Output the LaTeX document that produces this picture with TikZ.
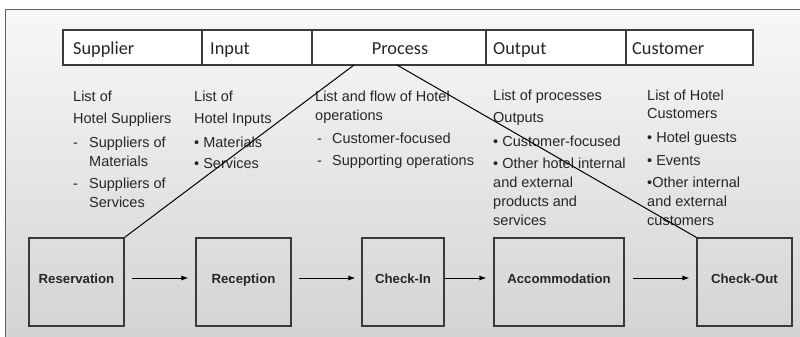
\documentclass[tikz,border=0pt]{standalone}
\usepackage{fontspec}
\setmainfont{Liberation Sans}
\newfontfamily\hdrfont{Carlito}
\usetikzlibrary{arrows.meta}
\definecolor{ink}{HTML}{262626}
\definecolor{linec}{HTML}{3A3A3A}
\tikzset{
  hdrcell/.style={draw=linec, line width=1.1pt, fill=white, inner sep=0pt},
  hdrtext/.style={anchor=base west, inner sep=0pt, text=ink, font=\hdrfont\fontsize{18.3}{20}\selectfont},
  body/.style={anchor=base west, inner sep=0pt, text=ink, font=\fontsize{14.5}{16}\selectfont},
  stagebox/.style={draw=linec, line width=1.1pt, inner sep=0pt, minimum height=88pt, text height=9.5pt, text depth=6pt, text=ink, font=\bfseries\fontsize{13.2}{15}\selectfont},
  flow/.style={draw=black, line width=1pt, -{Latex[length=7pt,width=5pt]}},
  diag/.style={draw=black, line width=1pt}
}
\begin{document}
\begin{tikzpicture}[x=1pt,y=-1pt]
\useasboundingbox (0,0) rectangle (800,337);
\fill[white] (0,0) rectangle (800,337);
\shade[top color=white!97!black, bottom color=white!83!black] (5,10) rectangle (800,337);
\draw[linec!80, line width=1pt] (800,10) -- (5,10) -- (5,337);

% header
\node[hdrcell, minimum width=139pt, minimum height=35pt] (h1) at (132.5,47.5) {};
\node[hdrcell, minimum width=110pt, minimum height=35pt] (h2) at (257,47.5) {};
\node[hdrcell, minimum width=174pt, minimum height=35pt] (h3) at (399,47.5) {};
\node[hdrcell, minimum width=140pt, minimum height=35pt] (h4) at (556,47.5) {};
\node[hdrcell, minimum width=127pt, minimum height=35pt] (h5) at (689.5,47.5) {};
\node[hdrtext] (t1) at (73,55) {Supplier};
\node[hdrtext] (t2) at (210,55) {Input};
\node[hdrtext, anchor=base] (t3) at (400,55) {Process};
\node[hdrtext] (t4) at (493,55) {Output};
\node[hdrtext] (t5) at (632,55) {Customer};

% column 1
\node[body] (a1) at (73,101) {List of};
\node[body] (a2) at (73,123) {Hotel Suppliers};
\node[body] (a3) at (73,147) {-};
\node[body] (a4) at (89,147) {Suppliers of};
\node[body] (a5) at (89,166) {Materials};
\node[body] (a6) at (73,188) {-};
\node[body] (a7) at (89,188) {Suppliers of};
\node[body] (a8) at (89,207) {Services};

% column 2
\node[body] (b1t) at (194,101) {List of};
\node[body] (b2t) at (194,123) {Hotel Inputs};
\node[body] (b3t) at (194,147) {\textbullet\ Materials};
\node[body] (b4t) at (194,168) {\textbullet\ Services};

% column 3
\node[body] (c1) at (315,101) {List and flow of Hotel};
\node[body] (c2) at (315,120) {operations};
\node[body] (c3) at (317,143) {-};
\node[body] (c4) at (332,143) {Customer-focused};
\node[body] (c5) at (317,165) {-};
\node[body] (c6) at (332,165) {Supporting operations};

% column 4
\node[body] (d1) at (493,100) {List of processes};
\node[body] (d2) at (493,122) {Outputs};
\node[body] (d3) at (493,146) {\textbullet\ Customer-focused};
\node[body] (d4) at (493,168) {\textbullet\ Other hotel internal};
\node[body] (d5) at (493,187) {and external};
\node[body] (d6) at (493,206) {products and};
\node[body] (d7) at (493,225) {services};

% column 5
\node[body] (e1) at (647,100) {List of Hotel};
\node[body] (e2) at (647,118) {Customers};
\node[body] (e3) at (647,142) {\textbullet\ Hotel guests};
\node[body] (e4) at (647,165) {\textbullet\ Events};
\node[body] (e5) at (647,187) {\textbullet Other internal};
\node[body] (e6) at (647,206) {and external};
\node[body] (e7) at (647,225) {customers};

% stage boxes
\node[stagebox, minimum width=95pt] (s1) at (76.5,282) {Reservation};
\node[stagebox, minimum width=95pt] (s2) at (243.5,282) {Reception};
\node[stagebox, minimum width=82pt] (s3) at (403,282) {Check-In};
\node[stagebox, minimum width=130pt] (s4) at (559,282) {Accommodation};
\node[stagebox, minimum width=95pt] (s5) at (744.5,282) {Check-Out};

\draw[flow] ([shift={(7,-4)}]s1.east) -- ([shift={(-7,-4)}]s2.west);
\draw[flow] ([shift={(7,-4)}]s2.east) -- ([shift={(-6,-4)}]s3.west);
\draw[flow] ([shift={(0,-4)}]s3.east) -- ([shift={(-7,-4)}]s4.west);
\draw[flow] ([shift={(8,-4)}]s4.east) -- ([shift={(-7,-4)}]s5.west);

% diagonal links
\coordinate (p1) at (354,65);
\coordinate (p2) at (397,65);
\draw[diag] (s1.north east) -- (p1);
\draw[diag] (p2) -- (s5.north west);
\end{tikzpicture}
\end{document}
